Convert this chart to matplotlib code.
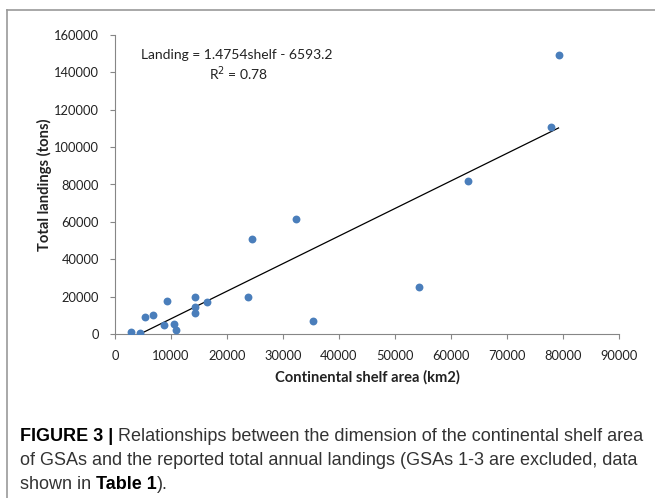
import matplotlib.pyplot as plt
from matplotlib.lines import Line2D
import numpy as np

# shelf area (km2) and total landings (tons)
shelf_area = [2900, 4400, 5300, 6700, 8700, 9300, 10500, 10900, 14300, 14200,
              14200, 16400, 23700, 24500, 32400, 35400, 54200, 63000, 77900, 79200]
landings = [1200, 400, 9100, 10300, 4600, 17500, 5400, 2300, 20000, 14400,
            11200, 17300, 19600, 50700, 61400, 6800, 25000, 81700, 110800, 149100]

slope = 1.4754
intercept = -6593.2
r2 = 0.78

x_ticks = list(range(0, 90001, 10000))
y_ticks = list(range(0, 160001, 20000))

chart_font = ['Lato', 'DejaVu Sans']
axis_grey = '#868686'
text_col = '#222222'

W, H = 655, 498
fig = plt.figure(figsize=(W / 100, H / 100), dpi=100)
# plot area: x 115..619 px, y 35..334 px
ax = fig.add_axes([115 / W, 1 - 334 / H, (619 - 115) / W, (334 - 35) / H])

ax.scatter(shelf_area, landings, s=32, color='#4a7ebb', zorder=3, linewidths=0)

# trendline across the data range (clipped at y=0 by the axes)
xs = np.array([min(shelf_area), max(shelf_area)])
ax.plot(xs, slope * xs + intercept, color='black', lw=0.9, zorder=2)

ax.set_xlim(0, 90000)
ax.set_ylim(0, 160000)
ax.set_xticks(x_ticks)
ax.set_yticks(y_ticks)
ax.tick_params(axis='both', colors=axis_grey, labelcolor=text_col,
               labelsize=9.3, length=3.5, width=0.8, direction='out')
ax.tick_params(axis='x', pad=8)
ax.tick_params(axis='y', pad=8)
for lab in ax.get_xticklabels() + ax.get_yticklabels():
    lab.set_family(chart_font)
for side in ['top', 'right']:
    ax.spines[side].set_visible(False)
for side in ['left', 'bottom']:
    ax.spines[side].set_color(axis_grey)
    ax.spines[side].set_linewidth(0.8)

ax.set_xlabel('Continental shelf area (km2)', fontsize=10.6, fontweight='bold',
              family=chart_font, color=text_col)
ax.set_ylabel('Total landings (tons)', fontsize=10.6, fontweight='bold',
              family=chart_font, color=text_col)
ax.xaxis.label.set_va('center')
ax.yaxis.label.set_va('center')
ax.xaxis.set_label_coords(0.5, (334 - 377) / (334 - 35))
ax.yaxis.set_label_coords((44 - 115) / (619 - 115), 0.5)

ax.text((141 - 115) / 504, (334 - 55) / 299, f'Landing = {slope}shelf - {abs(intercept)}',
        transform=ax.transAxes, fontsize=10, family=chart_font, color=text_col,
        va='center', ha='left')
ax.text((209 - 115) / 504, (334 - 74) / 299, f'R$^2$ = {r2}', transform=ax.transAxes,
        fontsize=10, family=chart_font, color=text_col, va='center', ha='left')

# outer frame (top and left edges visible)
fig.add_artist(Line2D([7 / W, 7 / W], [0, 1 - 10 / H], transform=fig.transFigure,
                      color='#9a9a9a', lw=1.2))
fig.add_artist(Line2D([7 / W, 1], [1 - 10 / H, 1 - 10 / H], transform=fig.transFigure,
                      color='#9a9a9a', lw=1.2))

# caption, pieces chained by measured width
cap_font = 'Liberation Sans'
cap_size = 13.0
cap_col = '#333333'
renderer = fig.canvas.get_renderer()


def caption_line(pieces, y_px):
    x = 20.0
    for txt, bold in pieces:
        t = fig.text(x / W, 1 - y_px / H, txt, fontsize=cap_size,
                     fontweight='bold' if bold else 'normal', family=cap_font,
                     va='center', ha='left', color='black' if bold else cap_col)
        x += t.get_window_extent(renderer).width


caption_line([('FIGURE 3 | ', True),
              ('Relationships between the dimension of the continental shelf area', False)], 436)
caption_line([('of GSAs and the reported total annual landings (GSAs 1-3 are excluded, data',
               False)], 460)
caption_line([('shown in ', False), ('Table 1', True), (').', False)], 484)

fig.savefig('out.png', dpi=100)
